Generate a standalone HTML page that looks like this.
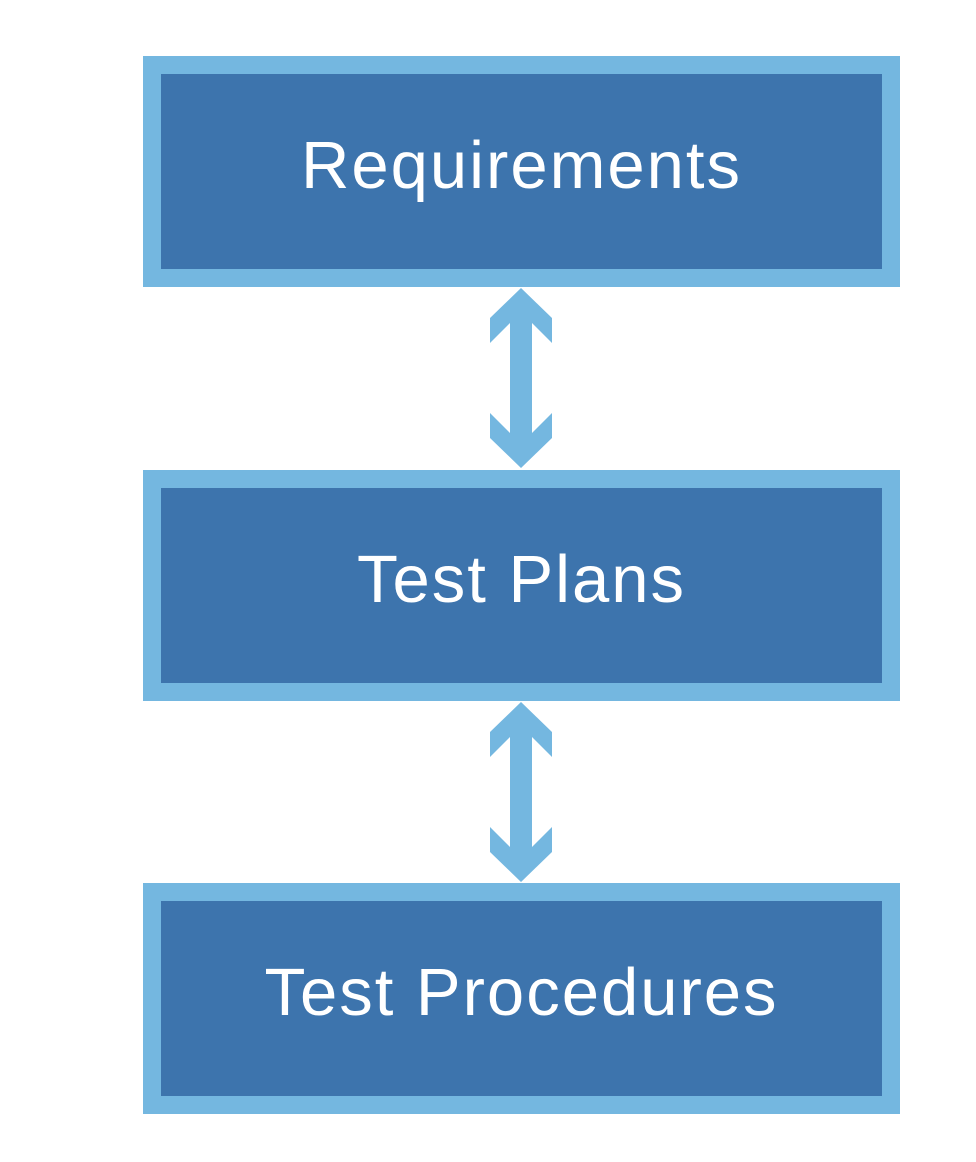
<!DOCTYPE html>
<html><head><style>
body{margin:0;width:976px;height:1162px;background:#fff;position:relative;overflow:hidden;font-family:"Liberation Sans",sans-serif}
.b{position:absolute;left:143px;width:721px;background:#3d74ad;border:18px solid #74b7e0;color:#fff;font-size:67px;letter-spacing:2px;display:flex;align-items:center;justify-content:center;box-sizing:content-box;height:195px}
</style></head><body>
<div class="b" style="top:56px"><span style="margin-top:-12px">Requirements</span></div>
<div class="b" style="top:470px"><span style="margin-top:-12px">Test Plans</span></div>
<div class="b" style="top:883px"><span style="margin-top:-12px">Test Procedures</span></div>
<svg width="976" height="1162" style="position:absolute;left:0;top:0">
<g fill="#74b7e0">
<polygon points="521,288 552,318 552,343 532,323 532,433 552,413 552,438 521,468 490,438 490,413 510,433 510,323 490,343 490,318"/>
<polygon transform="translate(0,414)" points="521,288 552,318 552,343 532,323 532,433 552,413 552,438 521,468 490,438 490,413 510,433 510,323 490,343 490,318"/>
</g></svg>
</body></html>
